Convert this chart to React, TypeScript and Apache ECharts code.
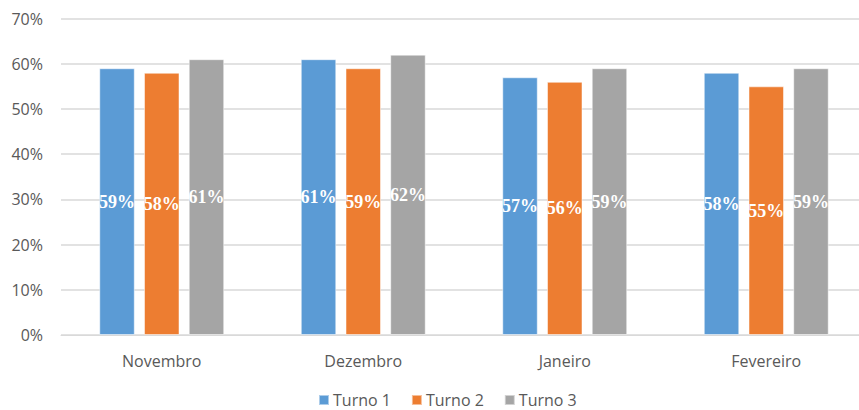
import React, { useEffect, useRef } from "react";
import * as echarts from "echarts";

const categories = ["Novembro", "Dezembro", "Janeiro", "Fevereiro"];
const seriesNames = ["Turno 1", "Turno 2", "Turno 3"];
const turno1 = [59, 61, 57, 58];
const turno2 = [58, 59, 56, 55];
const turno3 = [61, 62, 59, 59];
const colors = ["#5B9BD5", "#ED7D31", "#A5A5A5"];

const axisFont = { fontFamily: "Open Sans", fontSize: 16, color: "#595959" };

export default function App() {
  const ref = useRef<HTMLDivElement>(null);

  useEffect(() => {
    document.body.style.margin = "0";
    const chart = echarts.init(ref.current!, null, { renderer: "svg" });
    const values = [turno1, turno2, turno3];
    chart.setOption({
      animation: false,
      backgroundColor: "#ffffff",
      grid: { left: 61, width: 806, top: 18.5, bottom: 75, outerBoundsMode: "none", containLabel: false },
      legend: {
        left: 318,
        top: 392,
        padding: 0,
        itemWidth: 10,
        itemHeight: 10,
        itemGap: 20,
        icon: "rect",
        textStyle: { ...axisFont, lineHeight: 16, padding: [0, 0, 0, -1] },
        data: seriesNames,
      },
      xAxis: {
        type: "category",
        data: categories,
        axisLine: { lineStyle: { color: "#D9D9D9", width: 1 } },
        axisTick: { show: false },
        axisLabel: { ...axisFont, margin: 18 },
      },
      yAxis: {
        type: "value",
        min: 0,
        max: 70,
        interval: 10,
        axisLine: { show: false },
        axisTick: { show: false },
        splitLine: { lineStyle: { color: "#D9D9D9", width: 1.5 } },
        axisLabel: { ...axisFont, margin: 18, formatter: "{value}%" },
      },
      series: seriesNames.map((name, i) => ({
        name,
        type: "bar",
        data: values[i],
        barWidth: 35.5,
        barGap: "26%",
        itemStyle: { color: colors[i], borderColor: "rgba(255,255,255,0.5)", borderWidth: 1 },
        label: {
          show: true,
          position: "inside",
          formatter: "{c}%",
          color: "#ffffff",
          fontFamily: "Liberation Serif",
          fontWeight: "bold",
          fontSize: 18,
        },
      })),
    });
    return () => chart.dispose();
  }, []);

  return <div ref={ref} style={{ width: 859, height: 410 }} />;
}
